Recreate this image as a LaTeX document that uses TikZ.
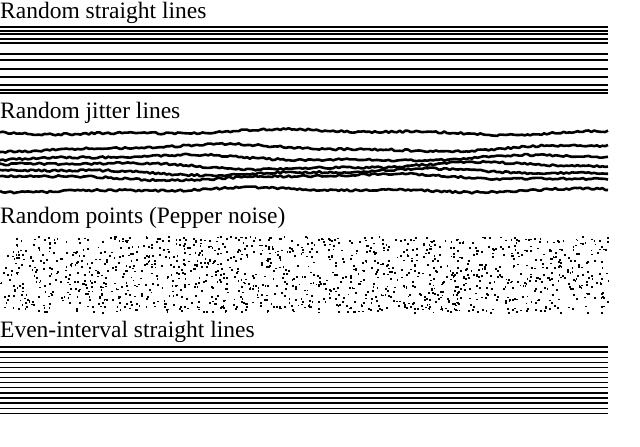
\documentclass[tikz,border=0pt]{standalone}
\usepackage{fontspec}
\setmainfont{Liberation Serif}
\begin{document}
\begin{tikzpicture}[x=1pt,y=-1pt,
  lbl/.style={anchor=base west,inner sep=0pt,font=\fontsize{23.5}{25}\selectfont},
  ln/.style={line width=1.3pt},
  jit/.style={line width=2.6pt,line join=round}]
\useasboundingbox (0,0) rectangle (640,447);
\pgfmathsetseed{7}
\node[lbl] (t1) at (0,18) {Random straight lines};
\foreach \y in {27,31,34,39,43,54,60,69,77,85,90,93}
  \draw[ln] (0,\y) -- (608,\y);
\node[lbl] (t2) at (0,118) {Random jitter lines};
\foreach \b/\a/\p in {132/2/0,148/3/1.3,158/2.5/2.1,166/3/3.3,172/2.5/4.4,177/2.5/5.2,190/1.5/0.7}
  \draw[jit] plot[domain=0:608,samples=220] (\x,{\b+\a*sin(\x*0.9+\p*57)+1.0*sin(\x*2.3+\p*80)+1.0*rand});
\node[lbl] (t3) at (0,223) {Random points (Pepper noise)};
\foreach \i in {1,...,1400}
  \fill ({608*rnd},{236+76*rnd}) rectangle ++(1.8,1.8);
\node[lbl] (t4) at (0,337) {Even-interval straight lines};
\foreach \k in {0,...,13}
  \draw[ln] (0,{347+5.1*\k}) -- (608,{347+5.1*\k});
\end{tikzpicture}
\end{document}
